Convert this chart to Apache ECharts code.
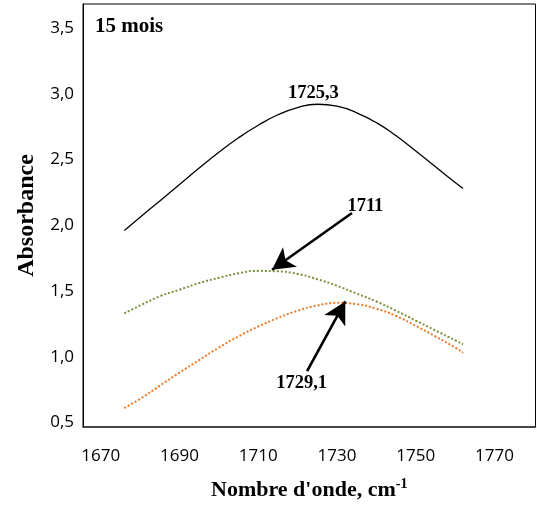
<!DOCTYPE html>
<html>
<head>
<meta charset="utf-8">
<script src="https://cdn.jsdelivr.net/npm/echarts@6/dist/echarts.min.js"></script>
<style>html,body{margin:0;padding:0;background:#fff}#c{width:537px;height:506px}</style>
</head>
<body>
<div id="c"></div>
<script>
// Wavenumbers (cm-1)
const wavenumbers = [1676,1680,1685,1690,1695,1700,1705,1710,1715,1720,1725,1730,1735,1740,1745,1750,1755,1760,1762];
// Absorbance series
const blackSeries  = [1.96,2.06,2.185,2.31,2.435,2.555,2.665,2.76,2.84,2.895,2.92,2.905,2.855,2.78,2.68,2.565,2.445,2.325,2.28];
const greenSeries  = [1.33,1.39,1.46,1.51,1.56,1.60,1.635,1.653,1.65,1.63,1.59,1.54,1.48,1.42,1.35,1.275,1.20,1.125,1.095];
const orangeSeries = [0.61,0.68,0.78,0.88,0.975,1.07,1.155,1.23,1.295,1.35,1.39,1.41,1.40,1.365,1.31,1.235,1.155,1.07,1.03];
// Tick labels
const xTicks = [1670,1690,1710,1730,1750,1770];
const yTicks = [0.5,1.0,1.5,2.0,2.5,3.0,3.5];
// Annotations: peak labels [x, y, text]
const peakLabels = [[1724.0,3.006,'1725,3'],[1737.2,2.148,'1711'],[1721.0,0.796,'1729,1']];
// Arrows [fromX, fromY, toX, toY]
const arrows = [[1733.8,2.093,1713.5,1.662],[1722.4,0.89,1732.1,1.421]];

const pair = (ys) => wavenumbers.map((x,i)=>[x,ys[i]]);
const serif = "'Liberation Serif','Times New Roman',serif";
const sans = "'Open Sans','Noto Sans',sans-serif";

const chart = echarts.init(document.getElementById('c'));
chart.setOption({
  animation:false,
  backgroundColor:'#fff',
  title:{text:'15 mois',left:90,top:11,textStyle:{fontFamily:serif,fontWeight:'bold',fontSize:21,color:'#000'}},
  grid:{left:83,right:1.5,top:4,bottom:78.5,show:true,borderColor:'#000',borderWidth:1},
  xAxis:{type:'value',min:1665.5,max:1780.4,
    axisLine:{show:true,onZero:false,lineStyle:{color:'#333',width:1.5}},
    axisTick:{show:false},splitLine:{show:false},
    axisLabel:{customValues:xTicks,fontFamily:sans,fontSize:17,color:'#000',margin:21,formatter:v=>String(v)},
    name:'{a|Nombre d\'onde, cm}{s|-1}',nameLocation:'middle',nameGap:50,
    nameTextStyle:{rich:{a:{fontFamily:serif,fontWeight:'bold',fontSize:22,color:'#000'},s:{fontFamily:serif,fontWeight:'bold',fontSize:14,color:'#000',verticalAlign:'top',padding:[0,0,12,0]}}}
  },
  yAxis:{type:'value',min:0.466,max:3.682,
    axisLine:{show:true,lineStyle:{color:'#000',width:1}},
    axisTick:{show:false},splitLine:{show:false},
    axisLabel:{customValues:yTicks,fontFamily:sans,fontSize:17,color:'#000',margin:9,formatter:v=>v.toFixed(1).replace('.',',')},
    name:'Absorbance',nameLocation:'middle',nameGap:44,
    nameTextStyle:{fontFamily:serif,fontWeight:'bold',fontSize:24,color:'#000'}
  },
  series:[
    {type:'line',data:pair(blackSeries),smooth:true,showSymbol:false,lineStyle:{color:'#000',width:1.3},
     markPoint:{symbol:'circle',symbolSize:0,
       label:{show:true,formatter:p=>p.name,fontFamily:serif,fontWeight:'bold',fontSize:18.5,color:'#000'},
       data:peakLabels.map(d=>({coord:[d[0],d[1]],name:d[2]}))},
     markLine:{silent:true,symbol:['none','arrow'],symbolSize:[18,22],label:{show:false},
       lineStyle:{color:'#000',width:2.6,type:'solid'},
       data:arrows.map(a=>[{coord:[a[0],a[1]]},{coord:[a[2],a[3]]}])}},
    {type:'line',data:pair(greenSeries),smooth:true,showSymbol:false,lineStyle:{color:'#77933C',width:2,type:[2,2]}},
    {type:'line',data:pair(orangeSeries),smooth:true,showSymbol:false,lineStyle:{color:'#EE7A26',width:2,type:[2,2]}}
  ]
});
</script>
</body>
</html>
